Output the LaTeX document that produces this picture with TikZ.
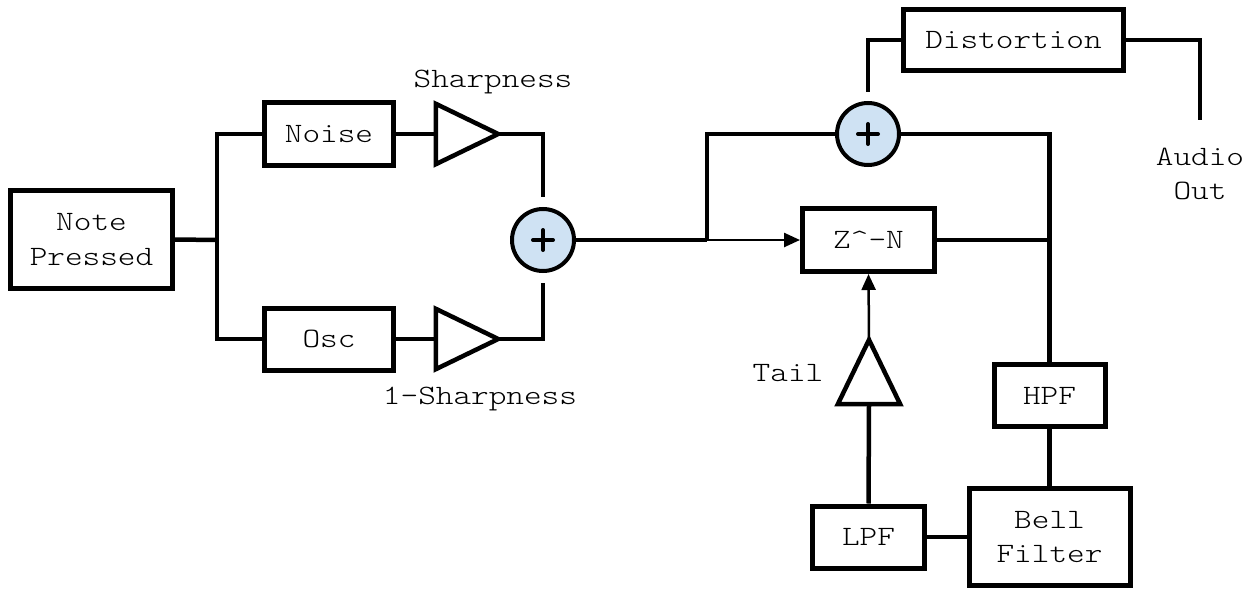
\documentclass[tikz,border=0pt]{standalone}
\usepackage{fontspec}
\setmonofont{Latin Modern Mono Light}[FakeStretch=1.2]
\usetikzlibrary{arrows.meta,calc}
\definecolor{sumblue}{HTML}{CFE2F3}
\begin{document}
\begin{tikzpicture}[x=1pt,y=-1pt,
  txt/.style={font=\ttfamily\fontsize{28}{34.5}\selectfont},
  box/.style={draw,line width=5pt,inner sep=0pt,align=center,txt},
  sum/.style={circle,draw,line width=4pt,fill=sumblue,minimum size=62pt,inner sep=0pt,
    path picture={\draw[line width=4pt,line cap=round]
      ($(path picture bounding box.center)+(-10,0)$) -- ++(20,0)
      ($(path picture bounding box.center)+(0,-10)$) -- ++(0,20);}},
  ampbox/.style={inner sep=0pt,minimum width=62pt,minimum height=60pt},
  tri/.style={line width=4.5pt,line join=miter},
  wire/.style={line width=4.5pt},
  thinarrow/.style={line width=2.5pt,-{Triangle[length=16pt,width=14pt]}}]
\useasboundingbox (0,0) rectangle (1249,591);
% boxes
\node[box,minimum width=162pt,minimum height=98pt] (note) at (91.5,239.5) {Note\\Pressed};
\node[box,minimum width=129pt,minimum height=62pt] (noise) at (329,134) {Noise};
\node[box,minimum width=129pt,minimum height=62pt] (osc) at (329,339) {Osc};
\node[box,minimum width=220pt,minimum height=61pt] (dist) at (1013.5,40) {Distortion};
\node[box,minimum width=132pt,minimum height=63pt] (z) at (868.5,240) {Z\^{}-N};
\node[box,minimum width=111pt,minimum height=62pt] (hpf) at (1049.5,395.5) {HPF};
\node[box,minimum width=161pt,minimum height=97pt] (bell) at (1049.5,537) {Bell\\Filter};
\node[box,minimum width=112pt,minimum height=62pt] (lpf) at (868.5,537) {LPF};
% adders
\node[sum] (sum1) at (543,240) {};
\node[sum] (sum2) at (868,134) {};
% amplifiers
\node[ampbox] (g1) at (467,134) {};
\node[ampbox] (g2) at (467,339) {};
\node[ampbox,minimum width=62pt,minimum height=64pt] (tail) at (869,372) {};
\draw[tri] (g1.north west) -- (g1.east) -- (g1.south west) -- cycle;
\draw[tri] (g2.north west) -- (g2.east) -- (g2.south west) -- cycle;
\draw[tri] (tail.south west) -- (tail.north) -- (tail.south east) -- cycle;
% labels
\node[txt] (lsharp) at (493,82) {Sharpness};
\node[txt] (l1sharp) at (480,399) {1-Sharpness};
\node[txt] (ltail) at (788,373) {Tail};
\node[txt,align=center] (audio) at (1200,174) {Audio\\Out};
% junctions
\coordinate (j0) at (217,240);
\coordinate (j1) at (707,240);
\coordinate (aoend) at (1200,120);
% wires
\draw[wire] (note.east) -- (j0);
\draw[wire] (noise.west) -| (j0) |- (osc.west);
\draw[wire] (noise.east) -- (g1.west);
\draw[wire] (osc.east) -- (g2.west);
\draw[wire,shorten >=10pt] (g1.east) -| (sum1.north);
\draw[wire,shorten >=10pt] (g2.east) -| (sum1.south);
\draw[wire] (sum1.east) -- (j1);
\draw[wire] (j1) |- (sum2.west);
\draw[thinarrow] (j1) -- (z.west);
\draw[wire,shorten <=9pt] (sum2.north) |- (dist.west);
\draw[wire] (dist.east) -| (aoend);
\draw[wire] (sum2.east) -| (hpf.north);
\draw[wire] (z.east) -- (z.east -| hpf.north);
\draw[wire] (hpf.south) -- (bell.north);
\draw[wire] (lpf.east) -- (bell.west);
\draw[wire] (lpf.north) -- (tail.south);
\draw[thinarrow] (tail.north) -- (z.south);
\end{tikzpicture}
\end{document}
